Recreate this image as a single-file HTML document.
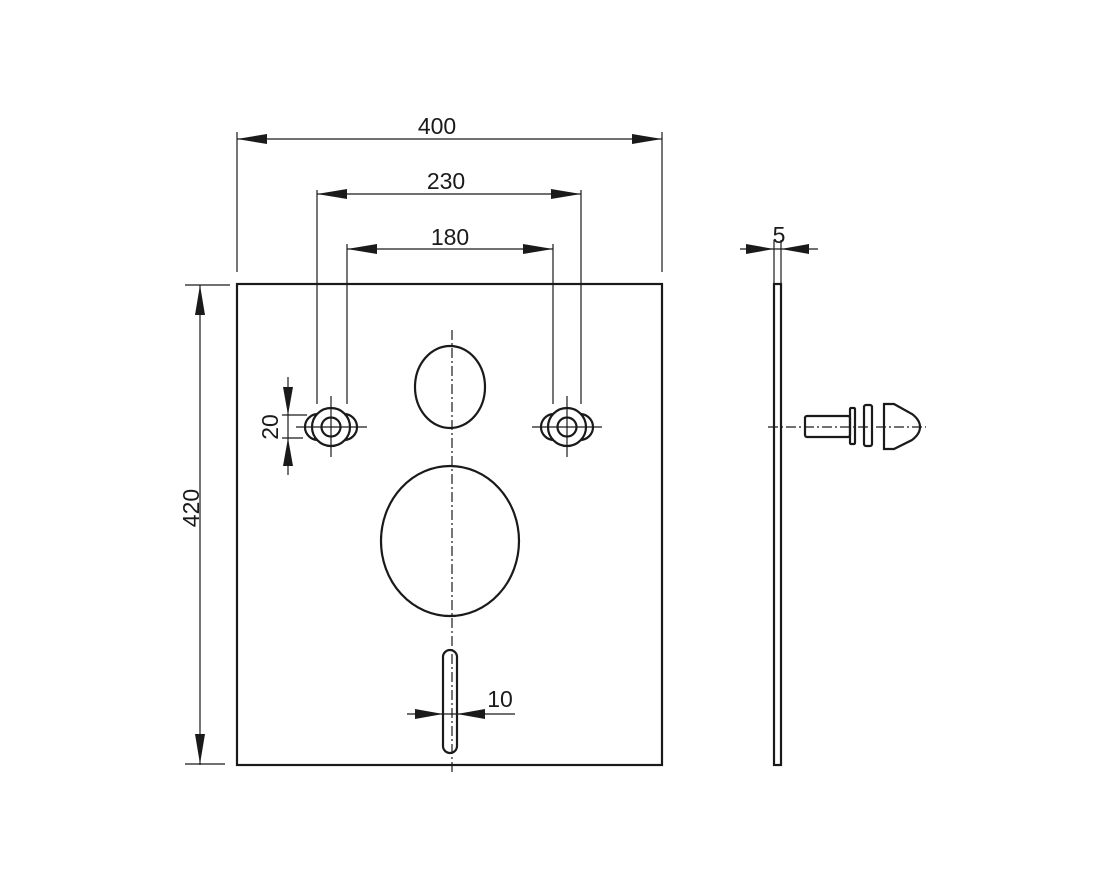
<!DOCTYPE html>
<html><head><meta charset="utf-8"><style>
html,body{margin:0;padding:0;background:#fff;}
svg{display:block;}
text{font-family:"Liberation Sans",Arial,sans-serif;font-size:23px;fill:#1a1a1a;}
</style></head><body>
<svg width="1100" height="883" viewBox="0 0 1100 883" xmlns="http://www.w3.org/2000/svg">
<g stroke="#1a1a1a" fill="none" stroke-width="1.2">
  <line x1="237" y1="132" x2="237" y2="272"/>
  <line x1="662" y1="132" x2="662" y2="272"/>
  <line x1="317" y1="190" x2="317" y2="404"/>
  <line x1="581" y1="190" x2="581" y2="404"/>
  <line x1="347" y1="244" x2="347" y2="404"/>
  <line x1="553" y1="244" x2="553" y2="404"/>
  <line x1="237" y1="139" x2="662" y2="139"/>
  <line x1="317" y1="194" x2="581" y2="194"/>
  <line x1="347" y1="249" x2="553" y2="249"/>
  <line x1="200" y1="285" x2="200" y2="765"/>
  <line x1="185" y1="285" x2="230" y2="285"/>
  <line x1="185" y1="764" x2="225" y2="764"/>
  <line x1="288" y1="377" x2="288" y2="475"/>
  <line x1="282" y1="415" x2="307" y2="415"/>
  <line x1="282" y1="438" x2="303" y2="438"/>
  <line x1="407" y1="714" x2="515" y2="714"/>
  <line x1="740" y1="249" x2="818" y2="249"/>
  <line x1="774" y1="240" x2="774" y2="284"/>
  <line x1="781" y1="240" x2="781" y2="284"/>
</g>
<g fill="#1a1a1a" stroke="none">
  <polygon points="237,139 267,134 267,144"/>
  <polygon points="662,139 632,134 632,144"/>
  <polygon points="317,194 347,189 347,199"/>
  <polygon points="581,194 551,189 551,199"/>
  <polygon points="347,249 377,244 377,254"/>
  <polygon points="553,249 523,244 523,254"/>
  <polygon points="200,285 195,315 205,315"/>
  <polygon points="200,764 195,734 205,734"/>
  <polygon points="288,415 283,387 293,387"/>
  <polygon points="288,438 283,466 293,466"/>
  <polygon points="443,714 415,709 415,719"/>
  <polygon points="457,714 485,709 485,719"/>
  <polygon points="774,249 746,244 746,254"/>
  <polygon points="781,249 809,244 809,254"/>
</g>
<rect x="237" y="284" width="425" height="481" fill="none" stroke="#1a1a1a" stroke-width="2.2"/>
<line x1="452" y1="330" x2="452" y2="772" stroke="#1a1a1a" stroke-width="1.2" stroke-dasharray="10,3,2,3"/>
<g fill="none" stroke="#1a1a1a" stroke-width="2.2">
  <ellipse cx="450" cy="387" rx="35" ry="41"/>
  <ellipse cx="450" cy="541" rx="69" ry="75"/>
  <rect x="443" y="650" width="14" height="103" rx="7"/>
  <rect x="774" y="284" width="7" height="481"/>
</g>
<g fill="none" stroke="#1a1a1a" stroke-width="2.2">
  <g>
    <path d="M318,414 A13,13 0 1 0 318,440"/>
    <path d="M344,414 A13,13 0 1 1 344,440"/>
    <circle cx="331" cy="427" r="19" fill="#fff"/>
    <circle cx="331" cy="427" r="9.5"/>
  </g>
  <g>
    <path d="M554,414 A13,13 0 1 0 554,440"/>
    <path d="M580,414 A13,13 0 1 1 580,440"/>
    <circle cx="567" cy="427" r="19" fill="#fff"/>
    <circle cx="567" cy="427" r="9.5"/>
  </g>
</g>
<g stroke="#1a1a1a" stroke-width="1.2">
  <line x1="296" y1="427" x2="367" y2="427"/>
  <line x1="331" y1="396" x2="331" y2="457"/>
  <line x1="532" y1="427" x2="602" y2="427"/>
  <line x1="567" y1="396" x2="567" y2="457"/>
</g>
<g fill="none" stroke="#1a1a1a" stroke-width="2.2">
  <rect x="805" y="416" width="45" height="21" rx="2"/>
  <rect x="850" y="408" width="5" height="36" rx="1"/>
  <rect x="864" y="405" width="8" height="41" rx="2"/>
  <path d="M884,404 L894,404 L912,414 Q920,420 920,427 Q920,434 912,440 L894,449 L884,449 Z"/>
</g>
<line x1="768" y1="427" x2="926" y2="427" stroke="#1a1a1a" stroke-width="1.2" stroke-dasharray="10,3,2,3"/>
<text x="437" y="134" text-anchor="middle">400</text>
<text x="446" y="189" text-anchor="middle">230</text>
<text x="450" y="245" text-anchor="middle">180</text>
<text x="779" y="243" text-anchor="middle">5</text>
<text x="500" y="707" text-anchor="middle">10</text>
<text transform="translate(199,508) rotate(-90)" text-anchor="middle">420</text>
<text transform="translate(278,427) rotate(-90)" text-anchor="middle">20</text>
</svg>
</body></html>
